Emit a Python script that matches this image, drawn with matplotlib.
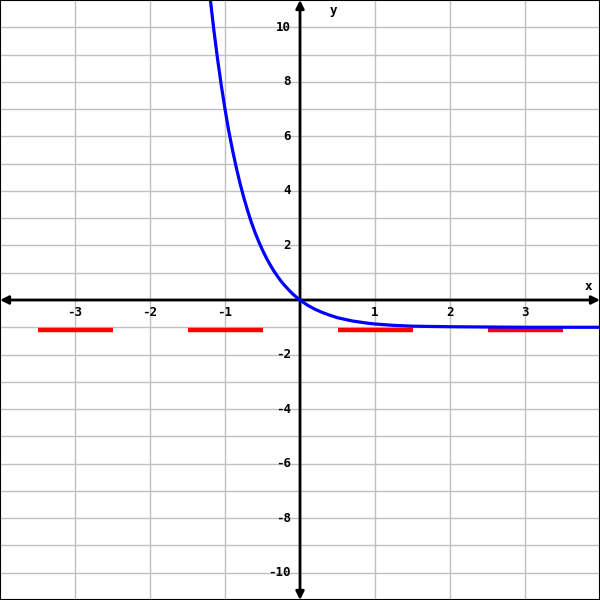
import matplotlib
matplotlib.use("Agg")
import matplotlib.pyplot as plt
import matplotlib.transforms as mtransforms
from matplotlib.patches import Rectangle

# Blue curve
curve_x = [-1.25, -1.2, -1.15, -1.1, -1.05, -1.0, -0.95, -0.9, -0.85, -0.8, -0.75, -0.7,
           -0.65, -0.6, -0.55, -0.5, -0.45, -0.4, -0.35, -0.3, -0.25, -0.2, -0.15, -0.1,
           -0.05, 0.0, 0.1, 0.2, 0.3, 0.4, 0.5, 0.6, 0.7, 0.8, 0.9, 1.0, 1.25, 1.5,
           1.75, 2.0, 2.5, 3.0, 3.5, 4.0]
curve_y = [12.45, 11.13, 9.93, 8.85, 7.88, 7.00, 6.20, 5.50, 4.86, 4.28, 3.76, 3.29,
           2.86, 2.48, 2.14, 1.83, 1.55, 1.30, 1.07, 0.87, 0.68, 0.52, 0.37, 0.23,
           0.11, 0.00, -0.19, -0.34, -0.46, -0.56, -0.65, -0.71, -0.77, -0.81, -0.85, -0.88,
           -0.93, -0.96, -0.97, -0.98, -0.99, -1.00, -1.00, -1.00]

# Red horizontal segments
seg_start = [-3.5, -1.5, 0.5, 2.5]
seg_end = [-2.5, -0.5, 1.5, 3.5]
seg_y = [-1, -1, -1, -1]

x_ticks = [-3, -2, -1, 1, 2, 3]
y_ticks = [-10, -8, -6, -4, -2, 2, 4, 6, 8, 10]

XMIN, XMAX = -4, 4
YMIN, YMAX = -11, 11

fig = plt.figure(figsize=(6, 6), dpi=100)
ax = fig.add_axes([0, 0, 1, 1])
ax.set_xlim(XMIN, XMAX)
ax.set_ylim(YMIN, YMAX)
for s in ax.spines.values():
    s.set_visible(False)
ax.set_xticks([])
ax.set_yticks([])

grid_c = "#c0c0c0"
for gx in range(XMIN + 1, XMAX):
    ax.axvline(gx, color=grid_c, lw=1, zorder=1)
for gy in range(YMIN + 1, YMAX):
    ax.axhline(gy, color=grid_c, lw=1, zorder=1)

# axes with arrows
ax.annotate("", xy=(XMAX, 0), xytext=(XMIN, 0),
            arrowprops=dict(arrowstyle="<|-|>", color="black", lw=2,
                            mutation_scale=12, shrinkA=0, shrinkB=0), zorder=3)
ax.annotate("", xy=(0, YMAX), xytext=(0, YMIN),
            arrowprops=dict(arrowstyle="<|-|>", color="black", lw=2,
                            mutation_scale=12, shrinkA=0, shrinkB=0), zorder=3)

# red segments (drawn slightly below the line, as in the picture)
off = mtransforms.offset_copy(ax.transData, fig=fig, x=0, y=-2.5, units="dots")
for a, b, yv in zip(seg_start, seg_end, seg_y):
    ax.plot([a, b], [yv, yv], color="#ff0000", lw=3.2, solid_capstyle="butt",
            transform=off, zorder=4)

ax.plot(curve_x, curve_y, color="#0000ff", lw=2.3, zorder=5)

font = dict(family="DejaVu Sans Mono", fontweight="bold", fontsize=9)
for t in x_ticks:
    ax.text(t, -0.45, str(t).replace("\u2212", "-"), ha="center", va="center", **font)
for t in y_ticks:
    ax.text(-0.12, t, str(t), ha="right", va="center", **font)
ax.text(3.85, 0.5, "x", ha="center", va="center", **font)
ax.text(0.45, 10.6, "y", ha="center", va="center", **font)

fig.patches.append(Rectangle((0, 0), 1, 1, transform=fig.transFigure,
                             fill=False, edgecolor="black", lw=1.5))

fig.savefig("out.png", dpi=100)
